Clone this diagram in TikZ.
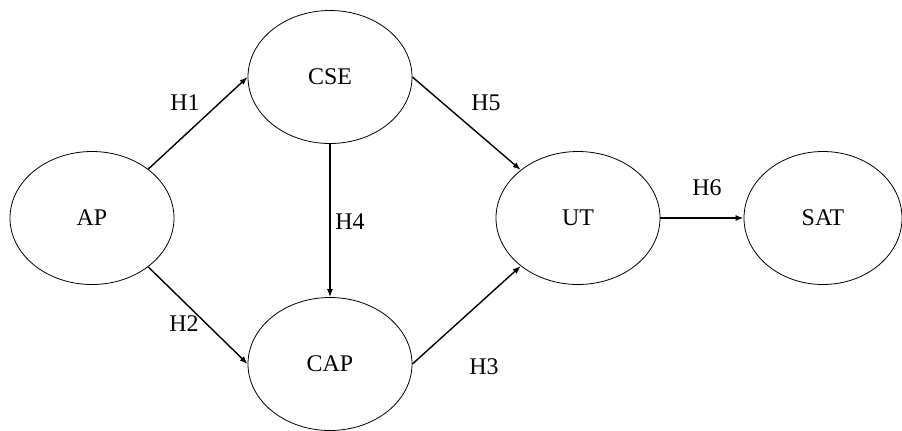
\documentclass[tikz,border=0pt]{standalone}
\usepackage{fontspec}
\setmainfont{Liberation Serif}
\usetikzlibrary{shapes.geometric,arrows.meta}
\begin{document}
\begin{tikzpicture}[x=1bp,y=-1bp,
  construct/.style={ellipse,draw,line width=0.8bp,inner sep=0pt,
    minimum width=164bp,minimum height=133bp,font=\fontsize{24}{28}\selectfont},
  path/.style={line width=1.4bp,-{Latex[length=8bp,width=6bp]}},
  hlabel/.style={font=\fontsize{24}{28}\selectfont}]
  \useasboundingbox (0,0) rectangle (902,430);
  % latent constructs
  \node[construct] (AP)  at (92,218)  {AP};
  \node[construct] (CSE) at (330,77)  {CSE};
  \node[construct] (CAP) at (330,364) {CAP};
  \node[construct] (UT)  at (578,218) {UT};
  \node[construct,minimum width=158bp] (SAT) at (823,218) {SAT};
  % hypothesised paths
  \draw[path] (AP.41)   -- (CSE.west);
  \draw[path] (AP.-41)  -- (CAP.west);
  \draw[path] (CSE.south) -- (CAP.north);
  \draw[path] (CSE.east) -- (UT.140);
  \draw[path] (CAP.east) -- (UT.220);
  \draw[path] (UT.east)  -- (SAT.west);
  % path labels
  \node[hlabel] (h1) at (185,103) {H1};
  \node[hlabel] (h2) at (184,324) {H2};
  \node[hlabel] (h3) at (484,367) {H3};
  \node[hlabel] (h4) at (350,222) {H4};
  \node[hlabel] (h5) at (486,103) {H5};
  \node[hlabel] (h6) at (707,188) {H6};
\end{tikzpicture}
\end{document}
